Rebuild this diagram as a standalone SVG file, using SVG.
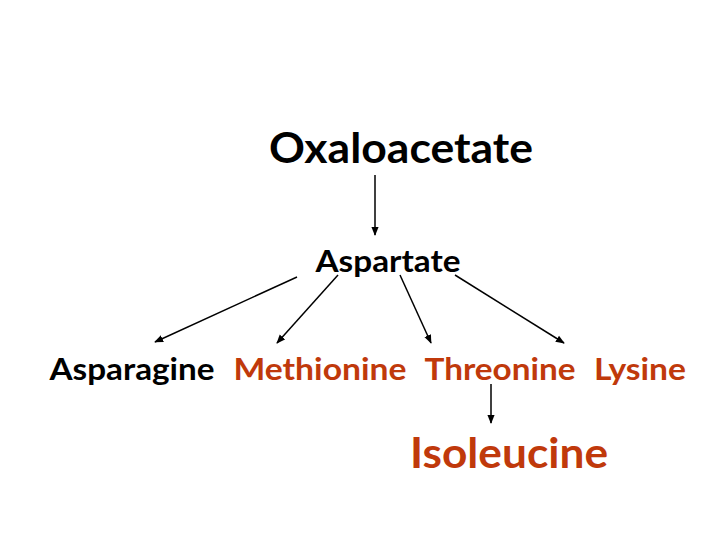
<svg xmlns="http://www.w3.org/2000/svg" width="720" height="540" viewBox="0 0 720 540">
<defs>
<marker id="ah" viewBox="0 0 10 10" refX="9" refY="5" markerWidth="6" markerHeight="6" orient="auto"><path d="M0,1 L10,5 L0,9 z" fill="#000"/></marker>
<style>
text{font-family:Lato,"Open Sans","Liberation Sans",sans-serif;font-weight:bold;text-anchor:middle}
.b{fill:#000}.r{fill:#C0390B}
line{stroke:#000;stroke-width:1.5;marker-end:url(#ah)}
</style>
</defs>
<rect width="720" height="540" fill="#fff"/>
<g id="oxaloacetate"><text class="b" x="401" y="163" font-size="42" textLength="264" lengthAdjust="spacingAndGlyphs">Oxaloacetate</text></g>
<g id="aspartate"><text class="b" x="388" y="272" font-size="30" textLength="145" lengthAdjust="spacingAndGlyphs">Aspartate</text></g>
<g id="asparagine"><text class="b" x="132" y="380" font-size="30" textLength="165" lengthAdjust="spacingAndGlyphs">Asparagine</text></g>
<g id="methionine"><text class="r" x="320" y="380" font-size="30" textLength="173" lengthAdjust="spacingAndGlyphs">Methionine</text></g>
<g id="threonine"><text class="r" x="500" y="380" font-size="30" textLength="151" lengthAdjust="spacingAndGlyphs">Threonine</text></g>
<g id="lysine"><text class="r" x="640" y="380" font-size="30" textLength="92" lengthAdjust="spacingAndGlyphs">Lysine</text></g>
<g id="isoleucine"><text class="r" x="509" y="468" font-size="42" textLength="198" lengthAdjust="spacingAndGlyphs">Isoleucine</text></g>
<g id="connectors">
<line x1="375" y1="175" x2="375" y2="235"/>
<line x1="297" y1="277" x2="155" y2="342"/>
<line x1="338" y1="275" x2="277" y2="343"/>
<line x1="400" y1="275" x2="431" y2="343"/>
<line x1="455" y1="275" x2="564" y2="343"/>
<line x1="491" y1="384" x2="491" y2="423"/>
</g>
</svg>
